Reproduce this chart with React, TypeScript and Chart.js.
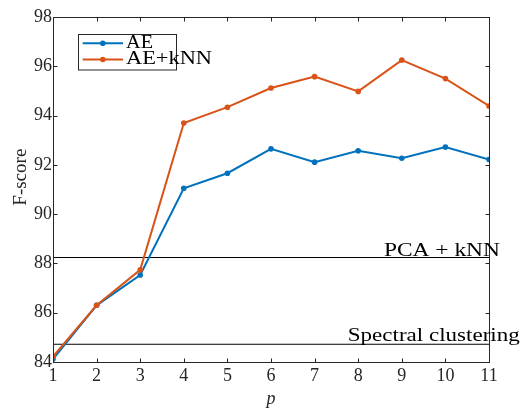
import React, { useEffect, useRef } from "react";
import { Chart, registerables } from "chart.js";

Chart.register(...registerables);

const pValues = [1, 2, 3, 4, 5, 6, 7, 8, 9, 10, 11];
const aeScores = [84.12, 86.3, 87.53, 91.05, 91.66, 92.65, 92.11, 92.57, 92.27, 92.72, 92.22];
const aeKnnScores = [84.22, 86.3, 87.74, 93.7, 94.34, 95.12, 95.58, 94.98, 96.25, 95.5, 94.39];
const pcaKnnScore = 88.24;
const spectralScore = 84.72;
const yTickValues = [84, 86, 88, 90, 92, 94, 96, 98];
const seriesNames = ["AE", "AE+kNN"];
const refNames = ["PCA + kNN", "Spectral clustering"];
const yTitle = "F-score";
const xTitle = "p";

const BLUE = "#0072BD";
const ORANGE = "#D95319";
const AXIS = "#262626";
const FONT = "'Liberation Serif', 'DejaVu Serif', serif";
const FS = 18;

// draw text stretched horizontally so that it spans the given width
function fitText(ctx: any, text: string, left: number, baseline: number, width: number) {
  const w = ctx.measureText(text).width;
  const k = width / w;
  ctx.save();
  ctx.translate(left, baseline);
  ctx.scale(k, 1);
  ctx.textAlign = "left";
  ctx.fillText(text, 0, 0);
  ctx.restore();
}

const matlabPlugin = {
  id: "matlabDecor",
  afterDraw(chart: any) {
    const { ctx, chartArea } = chart;
    const xs = chart.scales.x;
    const ys = chart.scales.y;
    const L = Math.round(chartArea.left) + 0.5;
    const R = Math.round(chartArea.right) + 0.5;
    const T = Math.round(chartArea.top) + 0.5;
    const B = Math.round(chartArea.bottom) + 0.5;
    ctx.save();
    ctx.strokeStyle = AXIS;
    ctx.lineWidth = 1;
    ctx.strokeRect(L, T, R - L, B - T);
    const tl = 4;
    ctx.beginPath();
    pValues.forEach((p) => {
      const x = Math.round(xs.getPixelForValue(p)) + 0.5;
      ctx.moveTo(x, B);
      ctx.lineTo(x, B - tl);
      ctx.moveTo(x, T);
      ctx.lineTo(x, T + tl);
    });
    yTickValues.forEach((v) => {
      const y = Math.round(ys.getPixelForValue(v)) + 0.5;
      ctx.moveTo(L, y);
      ctx.lineTo(L + tl, y);
      ctx.moveTo(R, y);
      ctx.lineTo(R - tl, y);
    });
    ctx.stroke();

    // reference labels
    ctx.fillStyle = "#000";
    ctx.font = `${FS}px ${FONT}`;
    ctx.textBaseline = "alphabetic";
    fitText(ctx, refNames[0], xs.getPixelForValue(8.59), ys.getPixelForValue(pcaKnnScore) - 1.5, 116);
    fitText(ctx, refNames[1], xs.getPixelForValue(7.76), ys.getPixelForValue(spectralScore) - 3.5, 172);

    // y title
    ctx.save();
    ctx.translate(26, ys.getPixelForValue(91.5));
    ctx.rotate(-Math.PI / 2);
    ctx.fillStyle = AXIS;
    fitText(ctx, yTitle, -28.5, 0, 57);
    ctx.restore();

    // legend
    const bx = 78.5, by = 34.5, bw = 98, bh = 35.5;
    ctx.fillStyle = "#fff";
    ctx.fillRect(bx, by, bw, bh);
    ctx.strokeStyle = AXIS;
    ctx.lineWidth = 1;
    ctx.strokeRect(bx, by, bw, bh);
    const items = [
      { name: seriesNames[0], color: BLUE, y: 43.3, w: 27 },
      { name: seriesNames[1], color: ORANGE, y: 59.5, w: 86 },
    ];
    items.forEach((it) => {
      ctx.strokeStyle = it.color;
      ctx.lineWidth = 2;
      ctx.beginPath();
      ctx.moveTo(82.7, it.y);
      ctx.lineTo(123, it.y);
      ctx.stroke();
      ctx.fillStyle = it.color;
      ctx.beginPath();
      ctx.arc(102.8, it.y, 2.8, 0, Math.PI * 2);
      ctx.fill();
      ctx.fillStyle = "#000";
      ctx.textBaseline = "alphabetic";
      fitText(ctx, it.name, 126, it.y + 4.7, it.w);
    });
    ctx.restore();
  },
};

export default function App() {
  const ref = useRef<HTMLCanvasElement | null>(null);
  useEffect(() => {
    document.body.style.margin = "0";
    if (!ref.current) return;
    const mk = (vals: number[]) => vals.map((v, i) => ({ x: pValues[i], y: v }));
    const flat = (v: number) => [
      { x: pValues[0], y: v },
      { x: pValues[pValues.length - 1], y: v },
    ];
    const chart = new Chart(ref.current, {
      type: "line",
      data: {
        datasets: [
          {
            label: seriesNames[0],
            data: mk(aeScores),
            borderColor: BLUE,
            backgroundColor: BLUE,
            borderWidth: 2,
            pointRadius: 2.8,
            pointBorderWidth: 0,
            pointBackgroundColor: BLUE,
            order: 2,
          },
          {
            label: seriesNames[1],
            data: mk(aeKnnScores),
            borderColor: ORANGE,
            backgroundColor: ORANGE,
            borderWidth: 2,
            pointRadius: 2.8,
            pointBorderWidth: 0,
            pointBackgroundColor: ORANGE,
            order: 1,
          },
          {
            label: refNames[0],
            data: flat(pcaKnnScore),
            borderColor: "#000",
            borderWidth: 1,
            pointRadius: 0,
            order: 3,
          },
          {
            label: refNames[1],
            data: flat(spectralScore),
            borderColor: "#000",
            borderWidth: 1,
            pointRadius: 0,
            order: 3,
          },
        ],
      },
      options: {
        responsive: false,
        animation: false,
        devicePixelRatio: 1,
        layout: { padding: { top: 17, right: 34, bottom: 0, left: 0 } },
        plugins: { legend: { display: false }, tooltip: { enabled: false } },
        scales: {
          x: {
            type: "linear",
            min: 1,
            max: 11,
            afterFit: (s: any) => {
              s.height = 46;
            },
            ticks: {
              stepSize: 1,
              padding: 3,
              color: AXIS,
              font: { family: FONT, size: FS },
              maxRotation: 0,
            },
            grid: { display: false, drawTicks: false },
            border: { display: false },
            title: {
              display: true,
              text: xTitle,
              color: AXIS,
              font: { family: FONT, size: FS, style: "italic" },
              padding: { top: 0, bottom: -2 },
            },
          },
          y: {
            type: "linear",
            min: 84,
            max: 98,
            afterFit: (s: any) => {
              s.width = 53;
            },
            ticks: {
              stepSize: 2,
              padding: 1,
              color: AXIS,
              font: { family: FONT, size: FS },
            },
            grid: { display: false, drawTicks: false },
            border: { display: false },
          },
        },
      },
      plugins: [matlabPlugin],
    });
    return () => chart.destroy();
  }, []);
  return (
    <div style={{ position: "fixed", left: 0, top: 0, width: 523, height: 408, background: "#fff" }}>
      <canvas ref={ref} width={523} height={408} style={{ width: 523, height: 408, display: "block" }} />
    </div>
  );
}
